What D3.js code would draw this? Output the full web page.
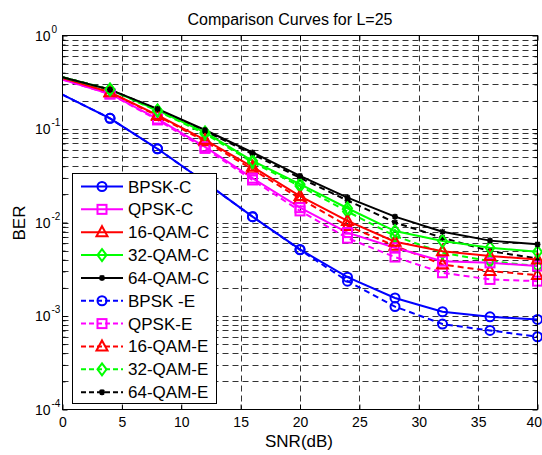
<!DOCTYPE html>
<html>
<head>
<meta charset="utf-8">
<script src="https://cdn.jsdelivr.net/npm/d3@7"></script>
<style>
  body { margin: 0; background: #fff; }
  svg { display: block; font-family: "Liberation Sans", Arial, sans-serif; }
</style>
</head>
<body>
<svg id="chart" width="542" height="455"></svg>
<script>
// SNR points (dB)
const snr = [0, 4, 8, 12, 16, 20, 24, 28, 32, 36, 40];

// BER values
const bpskC  = [0.233, 0.130, 0.0614, 0.027, 0.01155, 0.00515, 0.0026, 0.00156, 0.00111, 0.00098, 0.00092];
const qpskC  = [0.337, 0.237, 0.128, 0.0645, 0.0298, 0.0144, 0.0078, 0.00537, 0.00386, 0.0037, 0.00342];
const qam16C = [0.35, 0.247, 0.141, 0.0767, 0.0394, 0.0192, 0.0104, 0.00622, 0.00494, 0.00437, 0.00403];
const qam32C = [0.357, 0.264, 0.158, 0.092, 0.0457, 0.0257, 0.0142, 0.0081, 0.00634, 0.00537, 0.00486];
const qam64C = [0.357, 0.264, 0.164, 0.0975, 0.0561, 0.0315, 0.01845, 0.01155, 0.00797, 0.0064, 0.00584];
const bpskE  = [0.233, 0.130, 0.0614, 0.027, 0.01155, 0.0051, 0.00236, 0.00126, 0.00082, 0.0007, 0.0006];
const qpskE  = [0.337, 0.237, 0.125, 0.062, 0.0285, 0.0133, 0.0068, 0.00427, 0.0029, 0.00246, 0.00236];
const qam16E = [0.35, 0.247, 0.138, 0.074, 0.037, 0.018, 0.0092, 0.00563, 0.00356, 0.00302, 0.00274];
const qam32E = [0.357, 0.264, 0.156, 0.089, 0.044, 0.0245, 0.0131, 0.00717, 0.00475, 0.00386, 0.00342];
const qam64E = [0.357, 0.264, 0.162, 0.095, 0.054, 0.030, 0.0172, 0.0100, 0.00687, 0.00494, 0.00413];

const labels = ['BPSK-C', 'QPSK-C', '16-QAM-C', '32-QAM-C', '64-QAM-C',
                'BPSK -E', 'QPSK-E', '16-QAM-E', '32-QAM-E', '64-QAM-E'];
const xTicks = [0, 5, 10, 15, 20, 25, 30, 35, 40];
const yTicks = [1e-4, 1e-3, 1e-2, 1e-1, 1];

const series = [
  { name: labels[0], v: bpskC,  color: '#0000ff', marker: 'circle',   dash: null },
  { name: labels[1], v: qpskC,  color: '#ff00ff', marker: 'square',   dash: null },
  { name: labels[2], v: qam16C, color: '#ff0000', marker: 'triangle', dash: null },
  { name: labels[3], v: qam32C, color: '#00ff00', marker: 'diamond',  dash: null },
  { name: labels[4], v: qam64C, color: '#000000', marker: 'star',     dash: null },
  { name: labels[5], v: bpskE,  color: '#0000ff', marker: 'circle',   dash: '6,4' },
  { name: labels[6], v: qpskE,  color: '#ff00ff', marker: 'square',   dash: '6,4' },
  { name: labels[7], v: qam16E, color: '#ff0000', marker: 'triangle', dash: '6,4' },
  { name: labels[8], v: qam32E, color: '#00ff00', marker: 'diamond',  dash: '6,4' },
  { name: labels[9], v: qam64E, color: '#000000', marker: 'star',     dash: '6,4' }
];

const L = 62.5, R = 537.5, T = 35.5, B = 409.5;
const x = d3.scaleLinear().domain([0, 40]).range([L, R]);
const y = d3.scaleLog().domain([1e-4, 1]).range([B, T]);

const svg = d3.select('#chart');

svg.append('defs').append('clipPath').attr('id', 'plotclip')
  .append('rect').attr('x', L).attr('y', T).attr('width', R - L).attr('height', B - T);

// grid
const minor = [];
for (let e = -4; e < 0; e++) for (let k = 1; k < 10; k++) minor.push(k * Math.pow(10, e));
const grid = svg.append('g')
  .attr('stroke', '#333').attr('stroke-width', 1).attr('stroke-dasharray', '6,4');
grid.selectAll('.gy').data(minor.filter(d => d > 1e-4)).join('line')
  .attr('x1', L).attr('x2', R)
  .attr('y1', d => Math.round(y(d)) + 0.5).attr('y2', d => Math.round(y(d)) + 0.5);
grid.selectAll('.gx').data(xTicks.slice(1, -1)).join('line')
  .attr('y1', T).attr('y2', B)
  .attr('x1', d => Math.round(x(d)) + 0.5).attr('x2', d => Math.round(x(d)) + 0.5);

// axes with inward ticks
const xb = svg.append('g').attr('transform', `translate(0,${B})`)
  .call(d3.axisBottom(x).tickValues(xTicks).tickSizeInner(-5).tickSizeOuter(0).tickPadding(8));
const xt = svg.append('g').attr('transform', `translate(0,${T})`)
  .call(d3.axisTop(x).tickValues(xTicks).tickSizeInner(-5).tickSizeOuter(0).tickFormat(''));
const yl = svg.append('g').attr('transform', `translate(${L},0)`)
  .call(d3.axisLeft(y).tickValues(minor.concat([1])).tickSizeOuter(0).tickFormat('')
    .tickSizeInner(-3));
const yr = svg.append('g').attr('transform', `translate(${R},0)`)
  .call(d3.axisRight(y).tickValues(minor.concat([1])).tickSizeOuter(0).tickFormat('')
    .tickSizeInner(-3));
[yl, yr].forEach(g => g.selectAll('.tick line')
  .attr('x2', d => (Math.abs(Math.log10(d) - Math.round(Math.log10(d))) < 1e-9 ? 5 : 3) * (g === yl ? 1 : -1)));
[xb, xt, yl, yr].forEach(g => {
  g.select('.domain').remove();
  g.selectAll('.tick line').attr('stroke', '#000');
});
xb.selectAll('.tick text').attr('font-size', 14).attr('fill', '#000')
  .attr('font-family', '"Liberation Sans", Arial, sans-serif');
// last label sits at the window edge; keep it inside
xb.selectAll('.tick text').filter(d => d === 40).attr('text-anchor', 'end').attr('x', 4);

// y tick labels 10^k
const yLab = svg.append('g').attr('font-size', 14).attr('fill', '#000');
yTicks.forEach(v => {
  const e = Math.round(Math.log10(v));
  yLab.append('text').attr('x', L - 12).attr('y', y(v) + 5).attr('text-anchor', 'end').text('10');
  yLab.append('text').attr('x', L - 11).attr('y', y(v) - 3).attr('font-size', 10)
    .text(e === 0 ? '0' : '-' + (-e));
});

// curves
const line = d3.line().x((d, i) => x(snr[i])).y(d => y(d));
const plot = svg.append('g').attr('clip-path', 'url(#plotclip)');

function drawMarker(g, type, color, cx, cy) {
  if (type === 'circle') {
    g.append('circle').attr('cx', cx).attr('cy', cy).attr('r', 4.5)
      .attr('fill', 'none').attr('stroke', color).attr('stroke-width', 2);
  } else if (type === 'square') {
    g.append('rect').attr('x', cx - 4.5).attr('y', cy - 4.5).attr('width', 9).attr('height', 9)
      .attr('fill', 'none').attr('stroke', color).attr('stroke-width', 2);
  } else if (type === 'triangle') {
    g.append('path').attr('d', `M${cx},${cy - 6}L${cx + 5.5},${cy + 4}L${cx - 5.5},${cy + 4}Z`)
      .attr('fill', 'none').attr('stroke', color).attr('stroke-width', 2);
  } else if (type === 'diamond') {
    g.append('path').attr('d', `M${cx},${cy - 6}L${cx + 4.5},${cy}L${cx},${cy + 6}L${cx - 4.5},${cy}Z`)
      .attr('fill', 'none').attr('stroke', color).attr('stroke-width', 2);
  } else {
    const s = 3;
    g.append('path')
      .attr('d', `M${cx - s},${cy}L${cx + s},${cy}M${cx},${cy - s}L${cx},${cy + s}` +
        `M${cx - s * 0.75},${cy - s * 0.75}L${cx + s * 0.75},${cy + s * 0.75}` +
        `M${cx - s * 0.75},${cy + s * 0.75}L${cx + s * 0.75},${cy - s * 0.75}`)
      .attr('fill', 'none').attr('stroke', color).attr('stroke-width', 1.6);
  }
}

// draw dashed (E) first, then solid (C) on top
const order = [5, 6, 7, 8, 9, 0, 1, 2, 3, 4];
order.forEach(i => {
  const s = series[i];
  plot.append('path').datum(s.v).attr('d', line)
    .attr('fill', 'none').attr('stroke', s.color).attr('stroke-width', 2)
    .attr('stroke-dasharray', s.dash);
  const mg = svg.append('g');
  s.v.forEach((v, j) => { if (j > 0) drawMarker(mg, s.marker, s.color, x(snr[j]), y(v)); });
});

// frame
svg.append('rect').attr('x', L).attr('y', T).attr('width', R - L).attr('height', B - T)
  .attr('fill', 'none').attr('stroke', '#000').attr('stroke-width', 1);

// legend
const lg = svg.append('g');
const lx = 72.5, ly = 173.5, lw = 144, lh = 230;
lg.append('rect').attr('x', lx).attr('y', ly).attr('width', lw).attr('height', lh)
  .attr('fill', '#fff').attr('stroke', '#000').attr('stroke-width', 1);
series.forEach((s, i) => {
  const cy = 186.5 + i * 22.85;
  lg.append('line').attr('x1', 81).attr('x2', 123).attr('y1', cy).attr('y2', cy)
    .attr('stroke', s.color).attr('stroke-width', 2).attr('stroke-dasharray', s.dash ? '5,3' : null);
  drawMarker(lg, s.marker, s.color, 102, cy);
  lg.append('text').attr('x', 128).attr('y', cy + 6).attr('font-size', 17).attr('fill', '#000')
    .text(s.name);
});

// titles
svg.append('text').attr('x', 290).attr('y', 25).attr('text-anchor', 'middle')
  .attr('font-size', 16).text('Comparison Curves for L=25');
svg.append('text').attr('x', 299).attr('y', 447).attr('text-anchor', 'middle')
  .attr('font-size', 17).text('SNR(dB)');
svg.append('text').attr('transform', 'translate(25,223) rotate(-90)').attr('text-anchor', 'middle')
  .attr('font-size', 17).text('BER');
</script>
</body>
</html>
